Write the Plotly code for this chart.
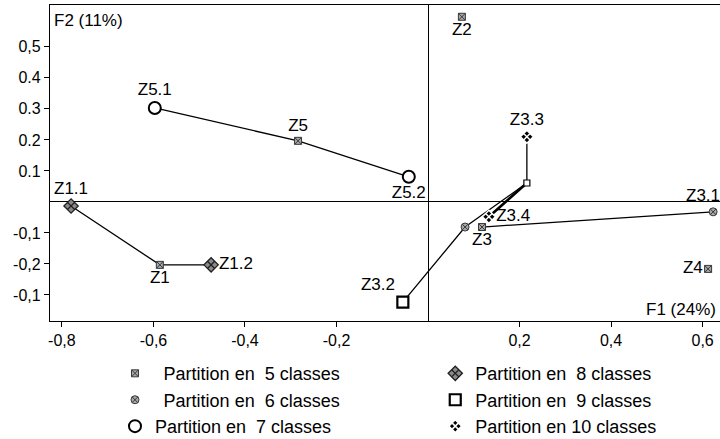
import plotly.graph_objects as go

# ---- data ----
c5_names = ["Z5", "Z1", "Z2", "Z3", "Z4"]
c5_x = [-0.284, -0.586, 0.074, 0.118, 0.612]
c5_y = [0.197, -0.203, 0.597, -0.081, -0.216]
c5_pos = ["top center", "bottom center", "bottom center", "bottom center", "middle left"]

c6_names = ["Z3.1", "Z3b"]
c6_x = [0.623, 0.081]
c6_y = [-0.032, -0.081]

c7_names = ["Z5.1", "Z5.2"]
c7_x = [-0.597, -0.042]
c7_y = [0.303, 0.081]
c7_pos = ["top center", "bottom center"]

c8_names = ["Z1.1", "Z1.2"]
c8_x = [-0.780, -0.474]
c8_y = [-0.013, -0.203]
c8_pos = ["top center", "middle right"]

c9_names = ["Z3.2"]
c9_x = [-0.055]
c9_y = [-0.323]
c9_pos = ["top left"]

c10_names = ["Z3.3", "Z3.4"]
c10_x = [0.216, 0.133]
c10_y = [0.210, -0.048]
c10_pos = ["top center", "middle right"]

node_names = ["N3"]
node_x = [0.216]
node_y = [0.061]

paths = [
    ["Z5.1", "Z5", "Z5.2"],
    ["Z1.1", "Z1", "Z1.2"],
    ["Z3.2", "Z3b", "N3", "Z3.3"],
    ["Z3", "Z3.1"],
]
double_paths = [["Z3.4", "N3"]]

x_ticks = [-0.8, -0.6, -0.4, -0.2, 0.2, 0.4, 0.6]
x_ticktext = ["-0,8", "-0,6", "-0,4", "-0,2", "0,2", "0,4", "0,6"]
y_ticks = [0.5, 0.4, 0.3, 0.2, 0.1, -0.1, -0.2, -0.3]
y_ticktext = ["0,5", "0.4", "0.3", "0.2", "0.1", "-0,1", "-0,2", "-0,1"]

legend_labels = [
    "\u00a0\u2009Partition en\u00a0 5 classes",
    "\u00a0\u2009Partition en\u00a0 6 classes",
    "Partition en\u00a0 7 classes",
    "Partition en\u00a0 8 classes",
    "Partition en\u00a0 9 classes",
    "Partition en 10 classes",
]

# ---- lookup ----
coords = {}
for ns, xs, ys in [(c5_names, c5_x, c5_y), (c6_names, c6_x, c6_y), (c7_names, c7_x, c7_y),
                   (c8_names, c8_x, c8_y), (c9_names, c9_x, c9_y), (c10_names, c10_x, c10_y),
                   (node_names, node_x, node_y)]:
    for n, xv, yv in zip(ns, xs, ys):
        coords[n] = (xv, yv)

FONT = "Liberation Sans, Arial, sans-serif"
fig = go.Figure()

for p in paths:
    fig.add_trace(go.Scatter(x=[coords[n][0] for n in p], y=[coords[n][1] for n in p],
                             mode="lines", line=dict(color="black", width=1.3),
                             showlegend=False, hoverinfo="skip"))
for p in double_paths:
    fig.add_trace(go.Scatter(x=[coords[n][0] for n in p], y=[coords[n][1] for n in p],
                             mode="lines", line=dict(color="black", width=2.6),
                             showlegend=False, hoverinfo="skip"))

tfont = dict(family=FONT, size=17, color="black")

fig.add_trace(go.Scatter(x=node_x, y=node_y, mode="markers",
                         marker=dict(symbol="square", size=6, color="white",
                                     line=dict(color="black", width=1.2)),
                         showlegend=False, hoverinfo="skip"))

fig.add_trace(go.Scatter(x=c5_x, y=c5_y, mode="markers+text", text=c5_names, textposition=c5_pos,
                         textfont=tfont, cliponaxis=False, name=legend_labels[0], legend="legend",
                         marker=dict(symbol="square-x", size=7, color="#a8a8a8",
                                     line=dict(color="#383838", width=1))))
fig.add_trace(go.Scatter(x=c6_x, y=c6_y, mode="markers", cliponaxis=False,
                         name=legend_labels[1], legend="legend",
                         marker=dict(symbol="circle-x", size=8, color="#a8a8a8",
                                     line=dict(color="#383838", width=1))))
fig.add_trace(go.Scatter(x=c7_x, y=c7_y, mode="markers+text", text=c7_names, textposition=c7_pos,
                         textfont=tfont, cliponaxis=False, name=legend_labels[2], legend="legend",
                         marker=dict(symbol="circle", size=12, color="white",
                                     line=dict(color="black", width=2))))
fig.add_trace(go.Scatter(x=c8_x, y=c8_y, mode="markers+text", text=c8_names, textposition=c8_pos,
                         textfont=tfont, cliponaxis=False, name=legend_labels[3], legend="legend2",
                         marker=dict(symbol="diamond-x", size=11, color="#8a8a8a",
                                     line=dict(color="#202020", width=1.3))))
fig.add_trace(go.Scatter(x=c9_x, y=c9_y, mode="markers+text", text=c9_names, textposition=c9_pos,
                         textfont=tfont, cliponaxis=False, name=legend_labels[4], legend="legend2",
                         marker=dict(symbol="square", size=11, color="white",
                                     line=dict(color="black", width=2.2))))
fig.add_trace(go.Scatter(x=c10_x, y=c10_y, mode="markers+text", text=c10_names, textposition=c10_pos,
                         textfont=tfont, cliponaxis=False, name=legend_labels[5], legend="legend2",
                         marker=dict(symbol="diamond-x", size=10, color="black",
                                     line=dict(color="white", width=1.5))))

# label of Z3.1 (sits at the right edge, partly cut like the reference)
fig.add_annotation(text="Z3.1", x=coords["Z3.1"][0], y=coords["Z3.1"][1], xref="x", yref="y",
                   xanchor="right", yanchor="bottom", xshift=9, yshift=5, showarrow=False,
                   font=tfont)

fig.add_annotation(text="F2 (11%)", xref="paper", yref="paper", x=0, y=1, xanchor="left",
                   yanchor="top", xshift=2, yshift=-4, showarrow=False, font=tfont)
fig.add_annotation(text="F1 (24%)", xref="paper", yref="paper", x=1, y=0, xanchor="right",
                   yanchor="bottom", xshift=-2, yshift=0, showarrow=False, font=tfont)

axis_common = dict(showgrid=False, zeroline=True, zerolinecolor="black", zerolinewidth=1.3,
                   showline=True, linecolor="black", linewidth=1.3, ticks="outside",
                   ticklen=5, tickcolor="black", tickwidth=1.2,
                   tickfont=dict(family=FONT, size=16, color="black"))

legend_font = dict(family=FONT, size=18, color="black")
fig.update_layout(
    width=720, height=439,
    margin=dict(l=50, r=0, t=5, b=118, autoexpand=False),
    paper_bgcolor="white", plot_bgcolor="white",
    xaxis=dict(range=[-0.826, 0.638], tickvals=x_ticks, ticktext=x_ticktext, mirror=True,
               ticklabelstandoff=0, **axis_common),
    yaxis=dict(range=[-0.384, 0.635], tickvals=y_ticks, ticktext=y_ticktext, mirror=False,
               **axis_common),
    legend=dict(x=0.097, y=-0.108, xanchor="left", yanchor="top", tracegroupgap=0,
                font=legend_font, bgcolor="rgba(0,0,0,0)"),
    legend2=dict(x=0.575, y=-0.108, xanchor="left", yanchor="top", tracegroupgap=0,
                 font=legend_font, bgcolor="rgba(0,0,0,0)"),
    showlegend=True,
)

fig.write_html("out.html", config={"displayModeBar": False},
               post_script="document.body.style.margin='0';document.body.style.overflow='hidden';")
